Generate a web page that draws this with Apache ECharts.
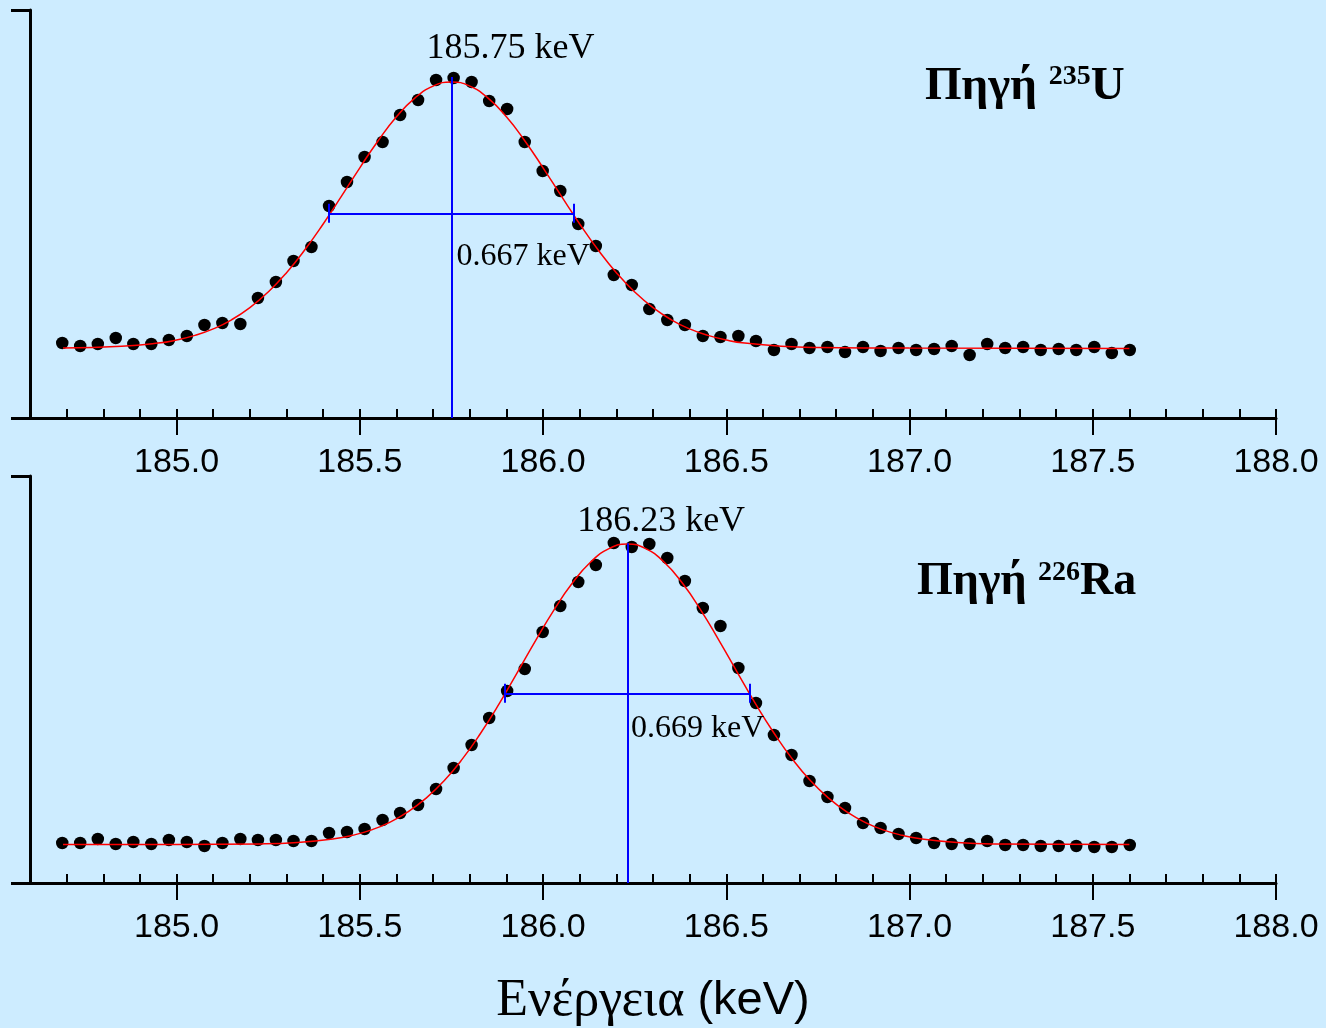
<!DOCTYPE html>
<html>
<head>
<meta charset="utf-8">
<script src="https://cdn.jsdelivr.net/npm/echarts@6/dist/echarts.min.js"></script>
<style>
  html, body { margin: 0; padding: 0; background: #cdecff; }
  #chart { width: 1326px; height: 1028px; }
</style>
</head>
<body>
<div id="chart"></div>
<script>
// channel energies (keV), same for both spectra
var energy = [184.688, 184.737, 184.785, 184.834, 184.882, 184.931, 184.979, 185.028, 185.076, 185.125,
  185.174, 185.222, 185.271, 185.319, 185.368, 185.416, 185.465, 185.513, 185.562, 185.610,
  185.659, 185.708, 185.756, 185.805, 185.853, 185.902, 185.950, 185.999, 186.047, 186.096,
  186.144, 186.193, 186.242, 186.290, 186.339, 186.387, 186.436, 186.484, 186.533, 186.581,
  186.630, 186.678, 186.727, 186.776, 186.824, 186.873, 186.921, 186.970, 187.018, 187.067,
  187.115, 187.164, 187.212, 187.261, 187.310, 187.358, 187.407, 187.455, 187.504, 187.552, 187.601];

// measured counts (arbitrary units)
var countsU = [75, 72, 74, 80, 74, 74, 78, 82, 93, 95,
  94, 120, 136, 157, 171, 212, 236, 261, 276, 303,
  318, 338, 340, 336, 317, 309, 276, 247, 227, 194,
  172, 143, 133, 109, 98, 93, 82, 81, 82, 77,
  68, 74, 70, 71, 66, 71, 67, 70, 68, 69,
  72, 63, 74, 70, 71, 68, 69, 68, 71, 65, 68];

var countsRa = [40, 40, 44, 39, 41, 39, 43, 41, 37, 40,
  44, 43, 43, 42, 42, 50, 51, 54, 63, 70,
  78, 94, 115, 138, 165, 192, 214, 251, 277, 301,
  318, 340, 336, 339, 325, 302, 275, 257, 215, 180,
  148, 128, 102, 86, 75, 60, 55, 49, 45, 40,
  39, 39, 42, 38, 38, 37, 37, 37, 36, 36, 38];

// fitted curves
var fitEnergyU = [184.69, 184.85, 184.95, 185.00, 185.05, 185.10, 185.15, 185.20, 185.25, 185.30,
  185.35, 185.40, 185.45, 185.50, 185.55, 185.60, 185.65, 185.70, 185.75, 185.80,
  185.85, 185.90, 185.95, 186.00, 186.05, 186.10, 186.15, 186.20, 186.25, 186.30,
  186.35, 186.40, 186.45, 186.50, 186.55, 186.65, 186.75, 187.00, 187.60];
var fitCountsU = [70, 71.7, 74.9, 78.0, 82.6, 89.1, 98.2, 110.4, 126.0, 145.3,
  168.2, 194.0, 221.8, 250.2, 277.3, 301.2, 319.9, 331.9, 336, 331.9,
  319.9, 301.2, 277.3, 250.2, 221.8, 194.0, 168.2, 145.3, 126.0, 110.4,
  98.2, 89.1, 82.6, 78.0, 74.9, 71.7, 70.5, 70, 69.5];

var fitEnergyRa = [184.69, 185.00, 185.23, 185.33, 185.43, 185.48, 185.53, 185.58, 185.63, 185.68,
  185.73, 185.78, 185.83, 185.88, 185.93, 185.98, 186.03, 186.08, 186.13, 186.18,
  186.23, 186.28, 186.33, 186.38, 186.43, 186.48, 186.53, 186.58, 186.63, 186.68,
  186.73, 186.78, 186.83, 186.88, 186.93, 186.98, 187.03, 187.13, 187.23, 187.60];
var fitCountsRa = [38.5, 38.6, 39.1, 40.5, 44.2, 47.7, 52.9, 60.4, 70.8, 84.6,
  102.2, 124.1, 150, 179.1, 210.7, 242.6, 273.2, 300, 321, 334.4,
  339, 334.4, 321, 300, 273.2, 242.6, 210.7, 179.1, 150, 124.1,
  102.2, 84.6, 70.8, 60.4, 52.9, 47.7, 44.2, 40.5, 39.1, 38.5];

// peak centre, FWHM edges, half-max level, line top
var peakU = 185.75, fwhmU = [185.4165, 186.0835], halfU = 204.7, topU = 341;
var peakRa = 186.23, fwhmRa = [185.8955, 186.5645], halfRa = 189.7, topRa = 339.7;

// annotation texts: [energy at left edge, level, text, font size]
var notesU = [[185.682, 369, "185.75 keV", 36], [185.764, 161, "0.667 keV", 32]];
var notesRa = [[186.093, 361, "186.23 keV", 36], [186.240, 154.5, "0.669 keV", 32]];

var majorTicks = [185.0, 185.5, 186.0, 186.5, 187.0, 187.5, 188.0];
var xMin = 184.6, xMax = 188.0;

var SERIF = "'Liberation Serif', 'Times New Roman', serif";
var SANS = "'Liberation Sans', Arial, sans-serif";
var BLUE = "#0000ff";

function pairs(xs, ys) {
  return xs.map(function (x, i) { return [x, ys[i]]; });
}

function mainXAxis(grid, withName) {
  var ax = {
    type: "value", gridIndex: grid, min: xMin, max: xMax,
    axisLine: { show: true, onZero: false, lineStyle: { color: "#000", width: 3 } },
    axisTick: { show: true, length: 17, lineStyle: { color: "#000", width: 2 }, customValues: majorTicks },
    axisLabel: {
      customValues: majorTicks, margin: 28, color: "#000", fontSize: 34, fontFamily: SANS,
      formatter: function (v) { return Number(v).toFixed(1); }
    },
    splitLine: { show: false }
  };
  if (withName) {
    ax.name = "{g|Ενέργεια }{s|(keV)}";
    ax.nameLocation = "middle";
    ax.nameGap = 92;
    ax.nameTextStyle = {
      rich: {
        g: { fontFamily: SERIF, fontSize: 52, color: "#000" },
        s: { fontFamily: SANS, fontSize: 47, color: "#000" }
      }
    };
  }
  return ax;
}

function minorXAxis(grid) {
  return {
    type: "value", gridIndex: grid, min: xMin, max: xMax, interval: 0.1,
    axisLine: { show: false },
    axisTick: { show: true, length: 9, lineStyle: { color: "#000", width: 2 } },
    axisLabel: { show: false },
    splitLine: { show: false }
  };
}

function yAxis(grid, max) {
  return {
    type: "value", gridIndex: grid, min: 0, max: max, interval: max,
    axisLine: { show: true, lineStyle: { color: "#000", width: 3 } },
    axisTick: { show: true, length: 19, lineStyle: { color: "#000", width: 3 } },
    axisLabel: { show: false },
    splitLine: { show: false }
  };
}

function panelSeries(xi, yi, counts, fitE, fitC, peak, fwhm, half, top, notes) {
  var cap = 9.5;
  return [
    {
      type: "scatter", xAxisIndex: xi, yAxisIndex: yi,
      data: pairs(energy, counts), symbolSize: 12.5,
      itemStyle: { color: "#000", opacity: 1 }, z: 2
    },
    {
      type: "line", xAxisIndex: xi, yAxisIndex: yi,
      data: pairs(fitE, fitC), smooth: true, showSymbol: false, symbol: "none",
      lineStyle: { color: "#ff0000", width: 1.5 }, z: 3,
      markLine: {
        silent: true, symbol: "none", label: { show: false },
        lineStyle: { color: BLUE, width: 2, type: "solid", opacity: 1 },
        data: [
          [{ coord: [peak, 0] }, { coord: [peak, top] }],
          [{ coord: [fwhm[0], half] }, { coord: [fwhm[1], half] }],
          [{ coord: [fwhm[0], half - cap] }, { coord: [fwhm[0], half + cap] }],
          [{ coord: [fwhm[1], half - cap] }, { coord: [fwhm[1], half + cap] }]
        ]
      }
    },
    {
      type: "scatter", xAxisIndex: xi, yAxisIndex: yi,
      data: notes.map(function (n) {
        return { value: [n[0], n[1]], name: n[2], label: { fontSize: n[3] } };
      }),
      symbolSize: 0, silent: true, z: 5,
      itemStyle: { opacity: 1 },
      label: {
        show: true, position: "right", distance: 0, color: "#000", opacity: 1,
        fontFamily: SERIF, fontSize: 34,
        formatter: function (p) { return p.name; }
      }
    }
  ];
}

function sourceTitle(left, top, size, mass, sym) {
  return {
    left: left, top: top, padding: 0,
    text: "{m|Πηγή }{s|" + mass + "}{m|" + sym + "}",
    textStyle: {
      rich: {
        m: { fontFamily: SERIF, fontWeight: "bold", fontSize: size, lineHeight: size, color: "#000" },
        s: { fontFamily: SERIF, fontWeight: "bold", fontSize: 28, lineHeight: 12,
             verticalAlign: "top", color: "#000" }
      }
    }
  };
}

var chart = echarts.init(document.getElementById("chart"), null, { renderer: "canvas" });
chart.setOption({
  backgroundColor: "#cdecff",
  animation: false,
  title: [
    sourceTitle(925, 63, 47, "235", "U"),
    sourceTitle(917, 559, 46, "226", "Ra")
  ],
  grid: [
    { left: 30, right: 50, top: 10, height: 408 },
    { left: 30, right: 50, top: 476, height: 407 }
  ],
  xAxis: [mainXAxis(0, false), minorXAxis(0), mainXAxis(1, true), minorXAxis(1)],
  yAxis: [yAxis(0, 408), yAxis(1, 407)],
  series: []
    .concat(panelSeries(0, 0, countsU, fitEnergyU, fitCountsU, peakU, fwhmU, halfU, topU, notesU))
    .concat(panelSeries(2, 1, countsRa, fitEnergyRa, fitCountsRa, peakRa, fwhmRa, halfRa, topRa, notesRa))
});
</script>
</body>
</html>
